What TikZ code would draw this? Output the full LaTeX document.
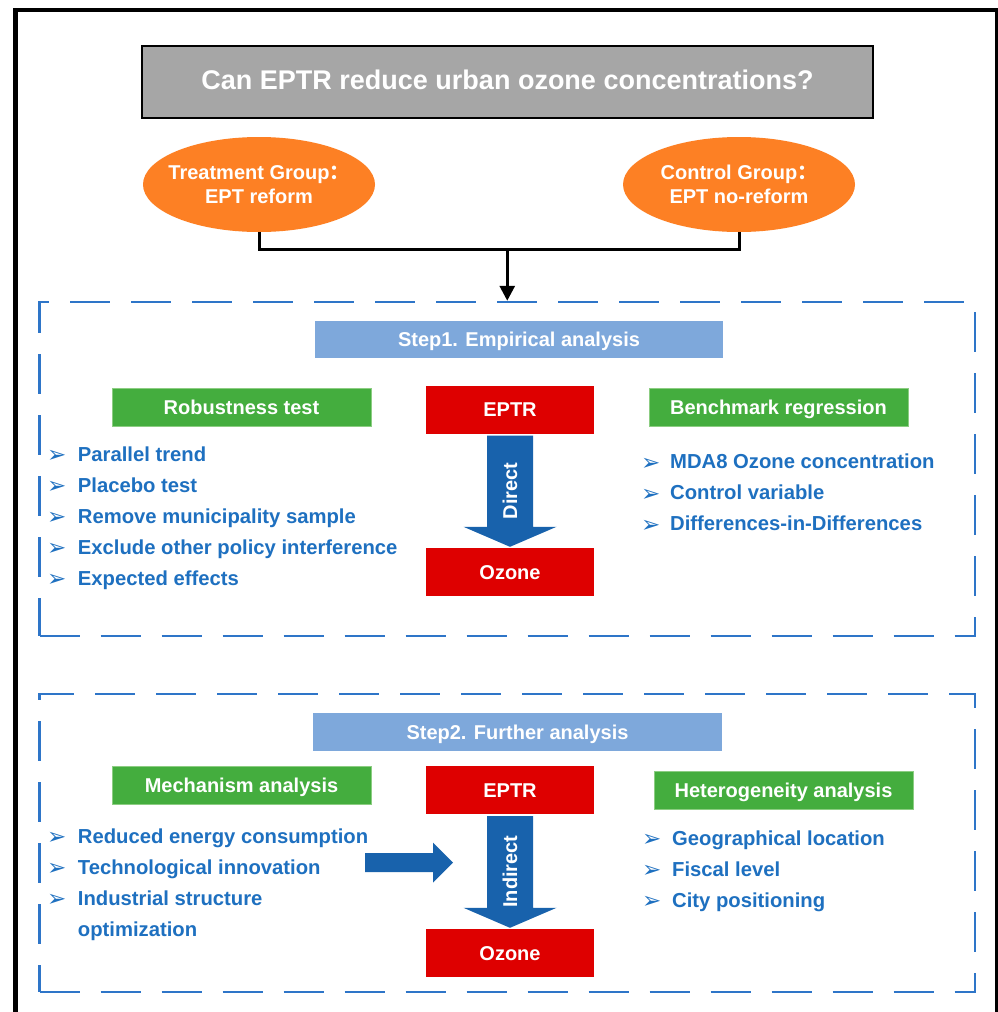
\documentclass[tikz,border=0pt]{standalone}
\usepackage{fontspec}
\setmainfont{Liberation Sans}
\newfontfamily\cjk{Noto Sans CJK SC}
\newfontfamily\dejavu{DejaVu Sans}
\usetikzlibrary{arrows.meta,calc,shapes.geometric}
\definecolor{titlegray}{RGB}{166,166,166}
\definecolor{grouporange}{RGB}{253,128,36}
\definecolor{eptrred}{RGB}{222,0,0}
\definecolor{boxgreen}{RGB}{68,173,62}
\definecolor{boxgreenedge}{RGB}{140,205,130}
\definecolor{stepblue}{RGB}{126,168,219}
\definecolor{arrowblue}{RGB}{24,98,172}
\definecolor{textblue}{RGB}{30,112,192}
\definecolor{dashblue}{RGB}{46,117,200}
\newcommand{\fatdown}[2]{%
  \fill[fatarrow] ($(#1.south)+(-23,2)$) -- ($(#2.north)+(-23,-21)$) -- ($(#2.north)+(-46.5,-21)$)
    -- ($(#2.north)+(0,-1)$) -- ($(#2.north)+(46.5,-21)$) -- ($(#2.north)+(23,-21)$)
    -- ($(#1.south)+(23,2)$) -- cycle;}
\tikzset{
  every node/.style={font=\bfseries\fontsize{20}{24.5}\selectfont, inner sep=0pt},
  capcenter/.style={text height=14.3pt, text depth=0pt},
  titlebox/.style={draw=black, line width=2pt, fill=titlegray, text=white,
    minimum width=731pt, minimum height=72pt,
    font=\bfseries\fontsize{27}{32}\selectfont, text height=19.3pt, text depth=4pt},
  groupshape/.style={ellipse, fill=grouporange, minimum width=232pt, minimum height=95pt},
  grouptext/.style={text=white, align=center},
  redbox/.style={fill=eptrred, text=white, minimum width=168pt, minimum height=48pt, capcenter},
  greenbox/.style={fill=boxgreen, draw=boxgreenedge, line width=0.8pt, text=white,
    minimum width=259pt, minimum height=38pt, capcenter},
  stepbox/.style={fill=stepblue, text=white, minimum width=408pt, minimum height=37pt, capcenter},
  dashbox/.style={draw=dashblue, line width=2.5pt, dash pattern=on 40pt off 21pt},
  item/.style={anchor=base west, text=textblue, font=\bfseries\fontsize{20.25}{24.5}\selectfont},
  bulletmark/.style={anchor=base west, text=textblue, yshift=-1.5pt, font=\dejavu\fontsize{23}{23}\selectfont},
  fatarrow/.style={fill=arrowblue},
  arrowlabel/.style={rotate=90, text=white, capcenter},
  link/.style={line width=3pt, draw=black},
}
\begin{document}
\begin{tikzpicture}[x=1pt,y=-1pt]
\useasboundingbox (0,0) rectangle (998,1012);
\clip (0,0) rectangle (998,1012);
\fill[white] (0,0) rectangle (998,1012);
% outer frame
\draw[line width=4.5pt] (15.5,10) rectangle (997,1040);

% title
\node[titlebox] (title) at (507.5,82) {Can EPTR reduce urban ozone concentrations?};

% groups
\node[groupshape] (tg) at (259,184.5) {};
\node[grouptext] (tgt) at (tg.center) {Treatment Group{\cjk ：}\\EPT reform};
\node[groupshape] (cg) at (739,184.5) {};
\node[grouptext] (cgt) at (cg.center) {Control Group{\cjk ：}\\EPT no-reform};

% dashed boxes
\node[dashbox, minimum width=935.5pt, minimum height=334pt] (box1) at (507.25,469) {};
\node[dashbox, minimum width=935.5pt, minimum height=298pt] (box2) at (507.25,843) {};

% connector
\draw[link] (tg.south) -- ++(0,17) coordinate (hl) -| (cg.south);
\draw[link, -{Triangle[width=15pt,length=15pt]}] (box1.north |- hl) -- (box1.north);

% Step 1
\node[stepbox] (step1) at (519,339.5) {Step1. Empirical analysis};
\node[greenbox] (robust) at (241.5,407) {Robustness test};
\node[greenbox] (bench) at (778.5,407) {Benchmark regression};
\node[redbox] (eptr1) at (510,409.5) {EPTR};
\node[redbox] (ozone1) at (510,572) {Ozone};
\fatdown{eptr1}{ozone1}
\node[arrowlabel] (direct) at ($(eptr1.south)!0.5!(ozone1.north)$) {Direct};

\node[bulletmark] (rb1) at (47,461) {➢};
\node[item] (r1) at (77.7,461) {Parallel trend};
\node[bulletmark] (rb2) at (47,492) {➢};
\node[item] (r2) at (77.7,492) {Placebo test};
\node[bulletmark] (rb3) at (47,523) {➢};
\node[item] (r3) at (77.7,523) {Remove municipality sample};
\node[bulletmark] (rb4) at (47,554) {➢};
\node[item] (r4) at (77.7,554) {Exclude other policy interference};
\node[bulletmark] (rb5) at (47,585) {➢};
\node[item] (r5) at (77.7,585) {Expected effects};

\node[bulletmark] (bb1) at (641,468.5) {➢};
\node[item] (b1) at (670,468.5) {MDA8 Ozone concentration};
\node[bulletmark] (bb2) at (641,499.5) {➢};
\node[item] (b2) at (670,499.5) {Control variable};
\node[bulletmark] (bb3) at (641,530.5) {➢};
\node[item] (b3) at (670,530.5) {Differences-in-Differences};

% Step 2
\node[stepbox, minimum width=409pt, minimum height=38pt] (step2) at (517.5,732) {Step2. Further analysis};
\node[greenbox] (mech) at (241.5,785) {Mechanism analysis};
\node[greenbox] (hetero) at (783.5,790) {Heterogeneity analysis};
\node[redbox] (eptr2) at (510,790) {EPTR};
\node[redbox] (ozone2) at (510,953) {Ozone};
\fatdown{eptr2}{ozone2}
\node[arrowlabel] (indirect) at ($(eptr2.south)!0.5!(ozone2.north)$) {Indirect};

\node[bulletmark] (mb1) at (47,843) {➢};
\node[item] (m1) at (77.7,843) {Reduced energy consumption};
\node[bulletmark] (mb2) at (47,874) {➢};
\node[item] (m2) at (77.7,874) {Technological innovation};
\node[bulletmark] (mb3) at (47,905) {➢};
\node[item] (m3) at (77.7,905) {Industrial structure};
\node[item] (m4) at (77.7,936) {optimization};

\node[bulletmark] (hb1) at (642,845) {➢};
\node[item] (h1) at (672,845) {Geographical location};
\node[bulletmark] (hb2) at (642,876) {➢};
\node[item] (h2) at (672,876) {Fiscal level};
\node[bulletmark] (hb3) at (642,907) {➢};
\node[item] (h3) at (672,907) {City positioning};

% right block arrow
\coordinate (ra1) at (365,862.5);
\coordinate (ra2) at (453,862.5);
\fill[fatarrow] ($(ra1)+(0,-9.5)$) -- ($(ra2)+(-20,-9.5)$) -- ($(ra2)+(-20,-20)$) -- (ra2)
  -- ($(ra2)+(-20,20)$) -- ($(ra2)+(-20,9.5)$) -- ($(ra1)+(0,9.5)$) -- cycle;
\end{tikzpicture}
\end{document}
